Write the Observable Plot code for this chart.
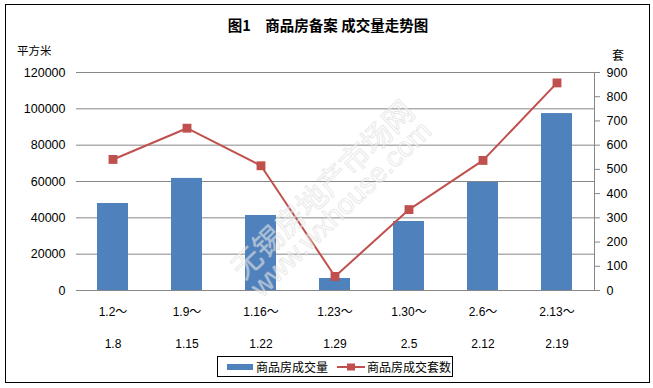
<!DOCTYPE html>
<html>
<head>
<meta charset="utf-8">
<script src="https://cdn.jsdelivr.net/npm/d3@7"></script>
<script src="https://cdn.jsdelivr.net/npm/@observablehq/plot@0.6"></script>
<style>
  html, body { margin: 0; padding: 0; background: #fff; }
  #wrap { position: relative; width: 653px; height: 388px; overflow: hidden;
          font-family: "Liberation Sans", "Noto Sans CJK SC", sans-serif; color: #000; }
  #wrap svg { position: absolute; left: 0; top: 0; }
  .abs { position: absolute; white-space: nowrap; line-height: 1; }
  #border { position: absolute; left: 5px; top: 4px; width: 645px; height: 379px;
            border: 1px solid #000; box-sizing: border-box; pointer-events: none; }
  #title { left: 0; width: 656px; top: 18px; text-align: center; font-size: 14.5px; font-weight: bold;
           font-family: "Noto Sans CJK SC", sans-serif; }
  #unitL { left: 17px; top: 45px; font-size: 11.5px; font-family: "Noto Sans CJK SC", sans-serif; }
  #unitR { left: 612px; top: 49px; font-size: 12px; font-family: "Noto Sans CJK SC", sans-serif; }
  #legend { position: absolute; left: 217px; top: 356px; width: 236px; height: 21px; box-sizing: border-box;
            border: 1px solid #000; background: #fff; display: flex; align-items: center;
            font-size: 12px; font-family: "Noto Sans CJK SC", sans-serif; }
  #legend .item { display: flex; align-items: center; }
  #legend svg { position: static; }
  #wm { position: absolute; left: 0; top: 0; width: 653px; height: 388px; pointer-events: none; }
  #wm div { position: absolute; white-space: nowrap; line-height: 1; transform-origin: center center;
            color: rgba(255,255,255,0.5); -webkit-text-stroke: 1px rgba(190,190,190,0.35); }
</style>
</head>
<body>
<div id="wrap">
  <div id="chart"></div>
  <div id="wm">
    <div id="wm1" style="font-family:'Noto Sans CJK SC';font-size:30px;">无锡房地产市场网</div>
    <div id="wm2" style="font-family:'Liberation Sans';font-size:28px;">www.wxhouse.com</div>
  </div>
  <div class="abs" id="title">图1　商品房备案 成交量走势图</div>
  <div class="abs" id="unitL">平方米</div>
  <div class="abs" id="unitR">套</div>
  <div id="legend"></div>
  <div id="border"></div>
</div>
<script>
// ---- data ----
const catStart = ["1.2～", "1.9～", "1.16～", "1.23～", "1.30～", "2.6～", "2.13～"];
const catEnd   = ["1.8", "1.15", "1.22", "1.29", "2.5", "2.12", "2.19"];
const areaValues = [47900, 61700, 41300, 6600, 38000, 59500, 97400];   // 商品房成交量 (平方米)
const unitValues = [541, 670, 515, 58, 334, 537, 857];                 // 商品房成交套数 (套)
const leftTicks  = [0, 20000, 40000, 60000, 80000, 100000, 120000];
const rightTicks = [0, 100, 200, 300, 400, 500, 600, 700, 800, 900];
const seriesNames = ["商品房成交量", "商品房成交套数"];
const colors = ["#4F81BD", "#C0504D"];

const leftMax = leftTicks[leftTicks.length - 1];
const rightMax = rightTicks[rightTicks.length - 1];
const k = leftMax / rightMax;

const rows = catStart.map((c, i) => ({cat: c, area: areaValues[i], units: unitValues[i], unitsScaled: unitValues[i] * k}));

const chart = Plot.plot({
  width: 653,
  height: 388,
  marginLeft: 76,
  marginRight: 59,
  marginTop: 72,
  marginBottom: 98,
  style: {fontFamily: '"Liberation Sans", "Noto Sans CJK SC", sans-serif', fontSize: "12.5px", color: "#000", background: "transparent", overflow: "visible"},
  x: {domain: catStart, paddingInner: 0.58, paddingOuter: 0.27, label: null},
  y: {domain: [0, leftMax], label: null},
  marks: [
    Plot.gridY(leftTicks, {stroke: "#868686", strokeOpacity: 1, strokeWidth: 1}),
    Plot.barY(rows, {x: "cat", y: "area", fill: colors[0]}),
    Plot.line(rows, {x: "cat", y: "unitsScaled", stroke: colors[1], strokeWidth: 2}),
    Plot.dot(rows, {x: "cat", y: "unitsScaled", symbol: "square", r: 5, fill: colors[1], stroke: "none"}),
    Plot.frame({anchor: "right", stroke: "#868686"}),
    Plot.axisY(leftTicks, {anchor: "left", tickSize: 0, tickPadding: 11, label: null, tickFormat: d3.format("d"), fill: "#000", fontSize: 12.5}),
    Plot.axisY(rightTicks.map(v => v * k), {anchor: "right", tickSize: 5, tickPadding: 7, label: null,
      tickFormat: d => String(Math.round(d / k)), stroke: "#868686", fill: "#000", fontSize: 12.5}),
    Plot.axisX({tickSize: 0, tickPadding: 16.5, label: null, fontSize: 12, fill: "#000"}),
    Plot.axisX({tickSize: 0, tickPadding: 48.5, label: null, fontSize: 12, fill: "#000",
      tickFormat: d => catEnd[catStart.indexOf(d)]})
  ]
});
document.getElementById("chart").appendChild(chart);

// legend
const legend = document.getElementById("legend");
legend.innerHTML = `
  <div class="item" style="margin-left:9px;">
    <svg width="26" height="8"><rect x="0" y="1" width="26" height="6" fill="${colors[0]}"/></svg>
    <span style="margin-left:3px;">${seriesNames[0]}</span>
  </div>
  <div class="item" style="margin-left:9px;">
    <svg width="28" height="10"><line x1="0" y1="5" x2="28" y2="5" stroke="${colors[1]}" stroke-width="2"/><rect x="10" y="1.5" width="8" height="7" fill="${colors[1]}"/></svg>
    <span style="margin-left:2px;">${seriesNames[1]}</span>
  </div>`;

// watermark placement
function placeWM(id, cx, cy, angle) {
  const el = document.getElementById(id);
  const w = el.offsetWidth, h = el.offsetHeight;
  el.style.left = (cx - w / 2) + "px";
  el.style.top = (cy - h / 2) + "px";
  el.style.transform = `rotate(${angle}deg)`;
}
placeWM("wm1", 321, 188, -44);
placeWM("wm2", 341, 209, -44);
</script>
</body>
</html>
